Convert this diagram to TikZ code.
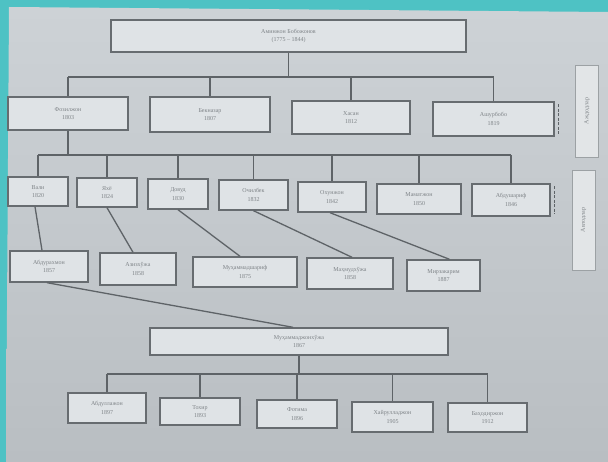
\documentclass[tikz,border=0pt]{standalone}
\usepackage{fontspec}
\setmainfont{Liberation Serif}
\definecolor{tealc}{HTML}{4EC2C4}
\definecolor{papertop}{HTML}{CDD2D6}
\definecolor{paperbot}{HTML}{B9BEC2}
\definecolor{boxfill}{HTML}{DFE3E6}
\definecolor{boxline}{HTML}{676C70}
\definecolor{lineclr}{HTML}{5E6367}
\definecolor{txt}{HTML}{7E8387}
\definecolor{lblfill}{HTML}{E2E5E7}
\definecolor{lblline}{HTML}{9CA1A4}
\begin{document}
\begin{tikzpicture}[x=1pt,y=-1pt]
\tikzset{
  box/.style={draw=boxline, fill=boxfill, line width=1.4pt, inner sep=0pt, align=center,
    font=\fontsize{6}{8.5}\selectfont, text=txt},
  lbl/.style={draw=lblline, fill=lblfill, line width=0.9pt, inner sep=0pt, align=center,
    font=\fontsize{6}{8}\selectfont, text=txt, rotate=90},
  conn/.style={draw=lineclr, line width=1.3pt},
  tick/.style={draw=lineclr, line width=0.8pt, dash pattern=on 3pt off 1.5pt},
}
\useasboundingbox (0,0) rectangle (608,462);
% background
\fill[tealc] (0,0) rectangle (608,462);
\shade[top color=papertop, bottom color=paperbot] (9,7) -- (608,12) -- (608,462) -- (6,462) -- cycle;

% generation 1
\node[box, minimum width=355pt, minimum height=32pt] (A) at (288.5,36) {Аминжон Бобожонов\\(1775 – 1844)};

% generation 2
\node[box, minimum width=120pt, minimum height=33pt] (B1) at (68,113.5) {Фозилжон\\1803};
\node[box, minimum width=120pt, minimum height=35pt] (B2) at (210,114.5) {Бекназар\\1807};
\node[box, minimum width=118pt, minimum height=33pt] (B3) at (351,117.5) {Хасан\\1812};
\node[box, minimum width=121pt, minimum height=34pt] (B4) at (493.5,119) {Ашурбобо\\1819};

% generation 3
\node[box, minimum width=60pt, minimum height=29pt] (C1) at (38,191.5) {Вали\\1820};
\node[box, minimum width=60pt, minimum height=29pt] (C2) at (107,192.5) {Яхё\\1824};
\node[box, minimum width=60pt, minimum height=30pt] (C3) at (178,194) {Довуд\\1830};
\node[box, minimum width=69pt, minimum height=30pt] (C4) at (253.5,195) {Очилбек\\1832};
\node[box, minimum width=68pt, minimum height=30pt] (C5) at (332,197) {Охунжон\\1842};
\node[box, minimum width=84pt, minimum height=30pt] (C6) at (419,199) {Маматжон\\1850};
\node[box, minimum width=78pt, minimum height=32pt] (C7) at (511,200) {Абдушариф\\1846};

% generation 4
\node[box, minimum width=78pt, minimum height=31pt] (D1) at (49,266.5) {Абдурахмон\\1857};
\node[box, minimum width=76pt, minimum height=32pt] (D2) at (138,269) {Азизхўжа\\1858};
\node[box, minimum width=104pt, minimum height=30pt] (D3) at (245,272) {Муҳаммадшариф\\1875};
\node[box, minimum width=86pt, minimum height=31pt] (D4) at (350,273.5) {Маҳмудхўжа\\1858};
\node[box, minimum width=73pt, minimum height=31pt] (D5) at (443.5,275.5) {Мирзакарим\\1887};

% generation 5
\node[box, minimum width=298pt, minimum height=27pt] (E) at (299,341.5) {Муҳаммаджонхўжа\\1867};

% generation 6
\node[box, minimum width=78pt, minimum height=30pt] (F1) at (107,408) {Абдуллажон\\1897};
\node[box, minimum width=80pt, minimum height=27pt] (F2) at (200,411.5) {Тохир\\1893};
\node[box, minimum width=80pt, minimum height=28pt] (F3) at (297,414) {Фотима\\1896};
\node[box, minimum width=81pt, minimum height=30pt] (F4) at (392.5,417) {Хайрулладжон\\1905};
\node[box, minimum width=79pt, minimum height=29pt] (F5) at (487.5,417.5) {Баҳодиржон\\1912};

% side labels
\node[lbl, minimum width=92pt, minimum height=23pt] (L1) at (587,111) {Аждодлар};
\node[lbl, minimum width=100pt, minimum height=23pt] (L2) at (583.5,220) {Авлодлар};

% bus coordinates
\coordinate (bus1) at (0,77);
\coordinate (bus2) at (0,155);
\coordinate (bus3) at (0,374);

% connectors: generation 1 -> 2
\draw[conn] (A.south) -- (A.south |- bus1);
\draw[conn] (B1.north |- bus1) -- (B4.north |- bus1);
\foreach \n in {B1,B2,B3,B4} \draw[conn] (\n.north) -- (\n.north |- bus1);

% generation 2 -> 3
\draw[conn] (B1.south) -- (B1.south |- bus2);
\draw[conn] (C1.north |- bus2) -- (C7.north |- bus2);
\foreach \n in {C1,C2,C3,C4,C5,C6,C7} \draw[conn] (\n.north) -- (\n.north |- bus2);

% generation 3 -> 4
\draw[conn] ([xshift=-3pt]C1.south) -- ([xshift=-7pt]D1.north);
\draw[conn] (C2.south) -- ([xshift=-5pt]D2.north);
\draw[conn] (C3.south) -- ([xshift=-5pt]D3.north);
\draw[conn] (C4.south) -- ([xshift=2pt]D4.north);
\draw[conn] ([xshift=-2pt]C5.south) -- ([xshift=6pt]D5.north);

% generation 4 -> 5
\draw[conn] ([xshift=-2pt]D1.south) -- ([xshift=-6pt]E.north);

% generation 5 -> 6
\draw[conn] (E.south) -- (E.south |- bus3);
\draw[conn] (F1.north |- bus3) -- (F5.north |- bus3);
\foreach \n in {F1,F2,F3,F4,F5} \draw[conn] (\n.north) -- (\n.north |- bus3);

% small double edges at right
\draw[tick] ([xshift=4pt,yshift=-3pt]B4.north east) -- ([xshift=4pt,yshift=3pt]B4.south east);
\draw[tick] ([xshift=4pt,yshift=-3pt]C7.north east) -- ([xshift=4pt,yshift=3pt]C7.south east);
\end{tikzpicture}
\end{document}
